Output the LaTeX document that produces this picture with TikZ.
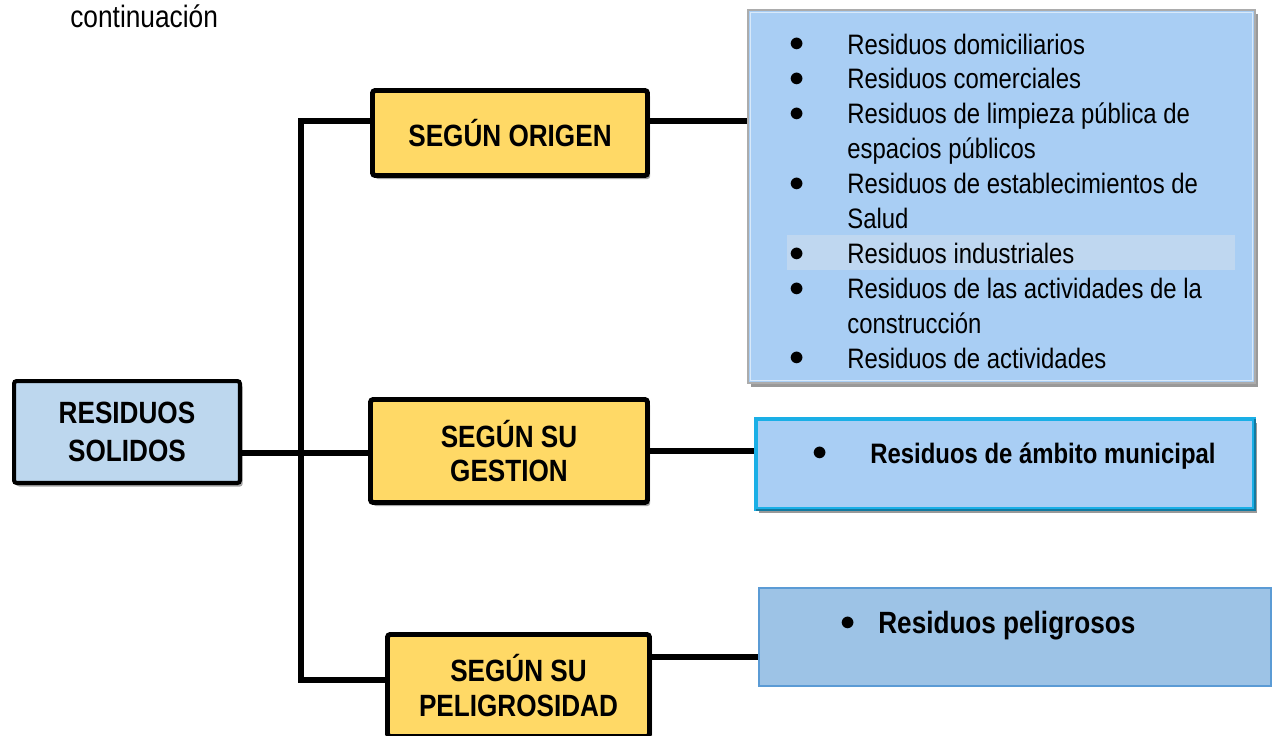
\documentclass[tikz,border=0pt]{standalone}
\usepackage{fontspec}
\setmainfont{Liberation Sans}[FakeStretch=0.85]
\usepackage{xcolor}
\usetikzlibrary{positioning, calc, shadows}
\definecolor{amarillo}{HTML}{FFD966}
\definecolor{azulraiz}{HTML}{BDD7EE}
\definecolor{azullista}{HTML}{A9CEF4}
\definecolor{banda}{HTML}{BFD7F0}
\definecolor{azulpel}{HTML}{9DC3E6}
\definecolor{bordepel}{HTML}{5B9BD5}
\definecolor{cian}{HTML}{1AAFE6}
\tikzset{
	caja/.style={rectangle, draw=black, line width=2.8pt, fill=amarillo, rounded corners=1.5pt, align=center,
		font=\fontsize{17.5}{19.8}\selectfont\bfseries,
		drop shadow={shadow xshift=1.5pt, shadow yshift=-2pt, opacity=0.35, fill=black}},
	raiz/.style={caja, fill=azulraiz, line width=2.3pt, font=\fontsize{17.5}{22}\selectfont\bfseries},
	rama/.style={draw, line width=3.4pt},
	lista/.style={rectangle, fill=azullista, draw=gray!65, line width=1.6pt,
		drop shadow={shadow xshift=1.5pt, shadow yshift=-2.5pt, opacity=0.4, fill=black}},
	renglon/.style={anchor=base west, inner sep=0pt, font=\fontsize{16}{19.8}\selectfont}
}
\newcommand{\punto}{\raisebox{1.3pt}{$\bullet$}}
\newcommand{\bul}{\makebox[1.1cm][l]{\kern-1.5pt\punto}}

\begin{document}
\begin{tikzpicture}[x=0.02cm, y=-0.02cm]
	\useasboundingbox (0,0) rectangle (1275,735);
	\clip (0,0) rectangle (1275,735);
	
	\node[renglon, font=\fontsize{17.6}{20}\selectfont] (cont) at (70,27) {continuación};
	
	% cajas de la izquierda
	\node[raiz, minimum width=4.52cm, minimum height=2.04cm] (solidos) at (127,432) {RESIDUOS\\SOLIDOS};
	\node[caja, minimum width=5.5cm, minimum height=1.7cm] (origen) at (510,133) {SEGÚN ORIGEN};
	\node[caja, minimum width=5.54cm, minimum height=2.06cm] (gestion) at (509,451) {SEGÚN SU\\GESTION};
	\node[caja, minimum width=5.24cm, minimum height=2.04cm] (pelig) at (518.5,685.5) {SEGÚN SU\\PELIGROSIDAD};
	
	% cajas de la derecha
	\node[lista, minimum width=10.14cm, minimum height=7.46cm] (lista) at (1001.5,196.5) {};
	\draw[white!55!azullista, line width=0.8pt] ($(lista.north west)+(4,4)$) rectangle ($(lista.south east)+(-4,-4)$);
	\fill[banda] (787,235) rectangle (1235,270);
	\foreach \t [count=\i from 0] in {\bul Residuos domiciliarios, \bul Residuos comerciales,
		\bul Residuos de limpieza pública de, \hspace*{1.1cm}espacios públicos,
		\bul Residuos de establecimientos de, \hspace*{1.1cm}Salud,
		\bul Residuos industriales, \bul Residuos de las actividades de la,
		\hspace*{1.1cm}construcción, \bul Residuos de actividades}
		\node[renglon] (linea\i) at (792,{54+34.9*\i}) {\t};
	
	\node[lista, draw=cian, line width=2pt, minimum width=9.96cm, minimum height=1.8cm] (munic) at (1005,464) {};
	\draw[cian!70!black, line width=1pt] ($(munic.north east)+(-1,2)$) -- ($(munic.south east)+(-1,-1)$) -- ($(munic.south west)+(2,-1)$);
	\node[renglon, font=\fontsize{16}{19.8}\selectfont\bfseries] (munitxt) at (815,463) {\bul Residuos de ámbito municipal};
	
	\node[rectangle, fill=azulpel, draw=bordepel, line width=1.3pt, minimum width=10.24cm, minimum height=1.96cm] (peligrosos) at (1015,637) {};
	\node[renglon, font=\fontsize{17.5}{20}\selectfont\bfseries] (peltxt) at (840,633) {\makebox[0.76cm][l]{\punto}Residuos peligrosos};
	
	% conectores
	\coordinate (troncoA) at (301,121);
	\coordinate (troncoB) at (301,680);
	\coordinate (cruce) at (301,453);
	\coordinate (enlaceP) at ($(peligrosos.west)+(0,20)$);
	\draw[rama] (origen.west |- troncoA) -- (troncoA) -- (troncoB) -- (pelig.west |- troncoB);
	\draw[rama] (solidos.east |- cruce) -- (gestion.west |- cruce);
	\draw[rama] (origen.east |- troncoA) -- (lista.west |- troncoA);
	\draw[rama] (gestion.east) -- (gestion.east -| munic.west);
	\draw[rama] (enlaceP -| pelig.east) -- (enlaceP);
\end{tikzpicture}
\end{document}
